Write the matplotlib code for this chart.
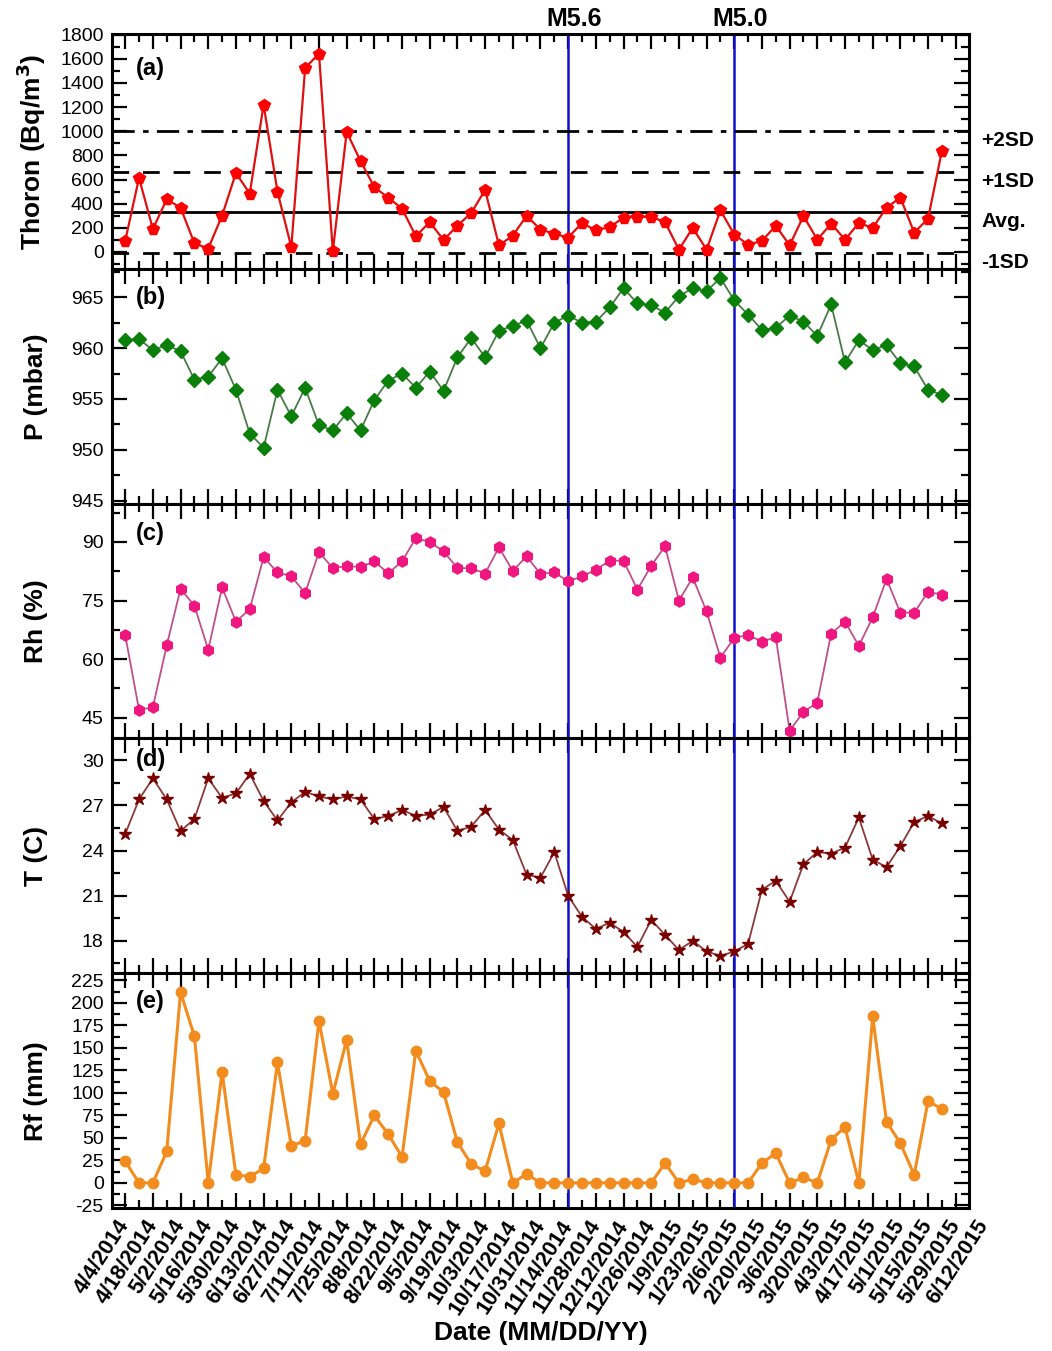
import matplotlib.pyplot as plt
from matplotlib.ticker import MultipleLocator

plt.rcParams['font.family'] = ['Liberation Sans', 'DejaVu Sans']
plt.rcParams['axes.unicode_minus'] = False

# weekly samples, first one on 4/4/2014
thoron = [91, 613, 190, 436, 367, 72, 28, 301, 654, 483,
          1220, 500, 39, 1524, 1643, 6, 994, 754, 536, 450,
          359, 130, 248, 99, 218, 323, 514, 55, 135, 300,
          185, 152, 119, 240, 179, 207, 284, 290, 290, 248,
          19, 199, 19, 345, 144, 61, 91, 218, 55, 298,
          102, 235, 102, 240, 199, 367, 450, 160, 276, 837]
pressure = [960.8, 960.9, 959.8, 960.3, 959.7, 956.9, 957.2, 959.0, 955.9, 951.6,
            950.2, 955.9, 953.3, 956.1, 952.4, 951.9, 953.6, 951.9, 954.9, 956.8,
            957.5, 956.1, 957.7, 955.8, 959.1, 961.0, 959.1, 961.7, 962.2, 962.7,
            960.0, 962.5, 963.2, 962.5, 962.6, 964.0, 965.9, 964.4, 964.2, 963.5,
            965.1, 965.9, 965.6, 966.9, 964.7, 963.3, 961.8, 962.0, 963.2, 962.6,
            961.2, 964.3, 958.6, 960.8, 959.8, 960.3, 958.5, 958.2, 955.9, 955.4]
humidity = [66.2, 47.0, 47.7, 63.5, 78.0, 73.7, 62.4, 78.4, 69.6, 72.8,
            86.1, 82.2, 81.2, 76.9, 87.4, 83.3, 83.8, 83.6, 85.0, 82.0,
            85.0, 91.0, 90.0, 87.6, 83.3, 83.3, 81.9, 88.6, 82.6, 86.3,
            81.8, 82.2, 79.9, 81.2, 82.9, 85.2, 85.2, 77.8, 83.9, 88.9,
            75.0, 80.9, 72.2, 60.4, 65.4, 66.2, 64.5, 65.6, 41.7, 46.5,
            48.9, 66.5, 69.6, 63.4, 70.7, 80.5, 71.9, 71.9, 77.2, 76.5]
temperature = [25.1, 27.4, 28.8, 27.4, 25.3, 26.1, 28.8, 27.5, 27.8, 29.1,
               27.3, 26.0, 27.2, 27.9, 27.6, 27.4, 27.6, 27.4, 26.1, 26.3,
               26.7, 26.3, 26.4, 26.9, 25.3, 25.6, 26.7, 25.4, 24.7, 22.4,
               22.2, 23.9, 21.0, 19.6, 18.8, 19.2, 18.6, 17.6, 19.4, 18.4,
               17.4, 18.0, 17.3, 17.0, 17.3, 17.8, 21.4, 22.0, 20.6, 23.1,
               23.9, 23.8, 24.2, 26.2, 23.4, 22.9, 24.3, 25.9, 26.3, 25.8]
rainfall = [24, 0, 0, 35, 212, 163, 0, 123, 9, 7,
            16, 134, 41, 47, 180, 99, 159, 43, 75, 54,
            29, 147, 113, 101, 45, 21, 13, 66, 0, 10,
            0, 0, 0, 0, 0, 0, 0, 0, 0, 22,
            0, 4, 0, 0, 0, 0, 22, 33, 0, 6,
            0, 48, 62, 0, 185, 68, 44, 9, 91, 82]

date_labels = ["4/4/2014", "4/18/2014", "5/2/2014", "5/16/2014", "5/30/2014", "6/13/2014",
               "6/27/2014", "7/11/2014", "7/25/2014", "8/8/2014", "8/22/2014", "9/5/2014",
               "9/19/2014", "10/3/2014", "10/17/2014", "10/31/2014", "11/14/2014",
               "11/28/2014", "12/12/2014", "12/26/2014", "1/9/2015", "1/23/2015",
               "2/6/2015", "2/20/2015", "3/6/2015", "3/20/2015", "4/3/2015", "4/17/2015",
               "5/1/2015", "5/15/2015", "5/29/2015", "6/12/2015"]

quakes = [32, 44]
quake_names = ["M5.6", "M5.0"]

# thoron statistics lines
sd_levels = [1002, 666, 330, -6]
sd_names = ["+2SD", "+1SD", "Avg.", "-1SD"]
sd_styles = [(0, (8, 3, 2, 3)), (0, (6, 5)), "-", (0, (6, 5))]

x = list(range(len(thoron)))

fig, axes = plt.subplots(5, 1, figsize=(10.52, 13.51), dpi=100, sharex=True)
fig.subplots_adjust(left=0.1065, right=0.921, top=0.9748, bottom=0.1058, hspace=0)

panels = [
    (thoron, "#ff0000", "#e01010", "p", 8.5, 1.6, "Thoron (Bq/m$\\mathbf{^3}$)", (-140, 1805), 200, 100, "(a)", 0.855),
    (pressure, "#0a7f0a", "#4a7a4a", "D", 7.5, 1.3, "P (mbar)", (944.7, 967.8), 5, 2.5, "(b)", 0.88),
    (humidity, "#f0167f", "#c0508a", "h", 8, 1.3, "Rh (%)", (39.7, 99.8), 15, 7.5, "(c)", 0.875),
    (temperature, "#7a0000", "#8b3a3a", "*", 9, 1.3, "T (C)", (15.85, 31.45), 3, 1.5, "(d)", 0.91),
    (rainfall, "#f28c1e", "#f28c1e", "o", 7.5, 2.2, "Rf (mm)", (-28, 233), 25, 12.5, "(e)", 0.88),
]

for ax, (vals, mcol, lcol, mk, ms, lw, ylab, ylim, major, minor, tag, tagy) in zip(axes, panels):
    ax.plot(x, vals, color=lcol, lw=lw, zorder=3)
    ax.plot(x, vals, linestyle="none", marker=mk, ms=ms, color=mcol, mec=mcol, zorder=4)
    ax.set_ylim(*ylim)
    ax.yaxis.set_major_locator(MultipleLocator(major))
    ax.yaxis.set_minor_locator(MultipleLocator(minor))
    ax.set_ylabel(ylab, fontsize=19, fontweight="bold")
    ax.yaxis.set_label_coords(-0.075, 0.5)
    ax.text(0.028, tagy, tag, transform=ax.transAxes, fontsize=17, fontweight="bold", va="center")
    for q in quakes:
        ax.axvline(q, color="#1010cc", lw=1.8, zorder=2)
    ax.tick_params(which="both", direction="in", top=True, right=True, width=1.6)
    ax.tick_params(which="major", length=11, labelsize=14, pad=6)
    ax.tick_params(which="minor", length=6)
    for s in ax.spines.values():
        s.set_linewidth(2.2)

ax = axes[0]
for lev, name, ls in zip(sd_levels, sd_names, sd_styles):
    ax.axhline(lev, color="black", lw=2, linestyle=ls, zorder=2)
    ax.annotate(name, xy=(1.0, lev), xycoords=("axes fraction", "data"),
                xytext=(9, -7), textcoords="offset points", fontsize=15,
                fontweight="bold", va="center", ha="left", annotation_clip=False)
for q, name in zip(quakes, quake_names):
    ax.annotate(name, xy=(q, 1.0), xycoords=("data", "axes fraction"),
                xytext=(4, 2), textcoords="offset points", fontsize=18,
                fontweight="bold", ha="center", va="bottom", annotation_clip=False)

bottom = axes[-1]
bottom.set_xlim(-0.95, 60.95)
bottom.set_xticks(range(0, 61, 2))
bottom.set_xticks(range(1, 61, 2), minor=True)
bottom.tick_params(axis="x", which="major", pad=10)
bottom.set_xticklabels(date_labels[:31], rotation=57, ha="right", va="center",
                       rotation_mode="anchor", fontsize=15.5, fontweight="bold")
# last date label sits just past the right edge of the axis
bottom.annotate(date_labels[31], xy=(62, 0), xycoords=("data", "axes fraction"),
                xytext=(0, -10), textcoords="offset points", rotation=57, ha="right",
                va="center", rotation_mode="anchor", fontsize=15.5, fontweight="bold",
                annotation_clip=False)
bottom.set_xlabel("Date (MM/DD/YY)", fontsize=19, fontweight="bold", labelpad=2)

fig.savefig("out.png", dpi=100)
